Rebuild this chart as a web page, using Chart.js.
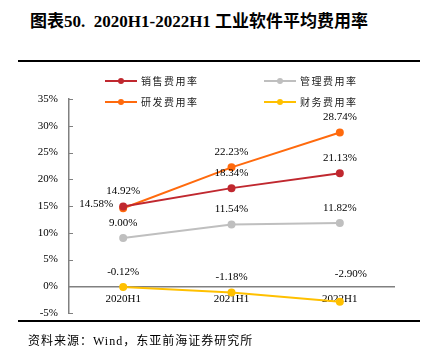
<!DOCTYPE html>
<html>
<head>
<meta charset="utf-8">
<script src="https://cdn.jsdelivr.net/npm/chart.js@4.4.0/dist/chart.umd.min.js"></script>
<style>
  body { margin: 0; background: #fff; }
  #wrap { position: relative; width: 431px; height: 354px; overflow: hidden; }
  #chart { position: absolute; left: 0; top: 0; }
  .title { position: absolute; left: 30px; top: 7px; font: bold 17px "Liberation Serif", "Noto Sans CJK SC"; color: #000; white-space: nowrap; }
  .rule { position: absolute; left: 18px; width: 402px; background: #000; }
  .source { position: absolute; left: 28px; top: 331px; font: 12px "Liberation Serif", "Noto Sans CJK SC"; letter-spacing: 1px; color: #000; white-space: nowrap; }
  .leg { position: absolute; height: 14px; font: 10px "Noto Sans CJK SC"; letter-spacing: 1.5px; color: #222; white-space: nowrap; }
  .leg .ln { position: absolute; left: 0; top: 6px; width: 32px; height: 2px; }
  .leg .dot { position: absolute; left: 13px; top: 4px; width: 6px; height: 6px; border-radius: 3px; }
  .leg span { position: absolute; left: 36px; top: -1px; }
</style>
</head>
<body>
<div id="wrap">
  <div class="title">图表50.&nbsp;&nbsp;2020H1-2022H1 工业软件平均费用率</div>
  <div class="rule" style="top:60px;height:1.5px"></div>
  <canvas id="chart" width="431" height="354"></canvas>
  <div id="legend"></div>
  <div class="rule" style="top:320px;height:2px"></div>
  <div class="source">资料来源：Wind，东亚前海证券研究所</div>
</div>
<script>
// Data
const categories = ['2020H1', '2021H1', '2022H1'];
const seriesNames = ['销售费用率', '管理费用率', '研发费用率', '财务费用率'];
const salesRate = [14.92, 18.34, 21.13];
const adminRate = [9.00, 11.54, 11.82];
const rdRate = [14.58, 22.23, 28.74];
const financeRate = [-0.12, -1.18, -2.90];
const yTicks = [-5, 0, 5, 10, 15, 20, 25, 30, 35];

const colors = ['#C0282F', '#BFBFBF', '#FF6A0D', '#FFC000'];
// label offsets per point [dx, dy]
const labelOffsets = [
    [[0, -15], [0, -15], [0, -15]],
    [[0, -15], [0, -15], [0, -15]],
    [[-27, -4], [0, -15], [0, -15]],
    [[0, -15], [0, -15], [11, -28]],
];

const allSeries = [salesRate, adminRate, rdRate, financeRate];

// Legend (2 x 2)
const legendPos = [[105, 74], [264, 74], [105, 95], [264, 95]];
const legendEl = document.getElementById('legend');
seriesNames.forEach((name, i) => {
    const d = document.createElement('div');
    d.className = 'leg';
    d.style.left = legendPos[i][0] + 'px';
    d.style.top = legendPos[i][1] + 'px';
    d.innerHTML = `<div class="ln" style="background:${colors[i]}"></div><div class="dot" style="background:${colors[i]}"></div><span>${name}</span>`;
    legendEl.appendChild(d);
});

// point labels
const labelPlugin = {
    id: 'pointLabels',
    afterDatasetsDraw(chart) {
        const ctx = chart.ctx;
        ctx.save();
        ctx.font = '11px "Liberation Serif"';
        ctx.fillStyle = '#000';
        ctx.textAlign = 'center';
        ctx.textBaseline = 'middle';
        chart.data.datasets.forEach((ds, i) => {
            chart.getDatasetMeta(i).data.forEach((pt, j) => {
                const off = labelOffsets[i][j];
                ctx.fillText(ds.data[j].toFixed(2) + '%', pt.x + off[0], pt.y + off[1]);
            });
        });
        ctx.restore();
    },
    afterDraw(chart) {
        // inward tick marks on the y axis
        const ctx = chart.ctx;
        const y = chart.scales.y;
        ctx.save();
        ctx.strokeStyle = '#808080';
        ctx.lineWidth = 1;
        y.ticks.forEach(t => {
            const py = Math.round(y.getPixelForValue(t.value)) + 0.5;
            ctx.beginPath();
            ctx.moveTo(y.right, py);
            ctx.lineTo(y.right + 4, py);
            ctx.stroke();
        });
        ctx.restore();
    }
};

new Chart(document.getElementById('chart'), {
    type: 'line',
    data: {
        labels: categories,
        datasets: allSeries.map((s, i) => ({
            label: seriesNames[i],
            data: s,
            borderColor: colors[i],
            backgroundColor: colors[i],
            borderWidth: 2,
            pointRadius: 3,
            pointHoverRadius: 3,
            tension: 0,
        })),
    },
    options: {
        responsive: false,
        animation: false,
        layout: { padding: { left: 0, right: 37, top: 99, bottom: 41 } },
        plugins: { legend: { display: false }, tooltip: { enabled: false } },
        scales: {
            x: {
                position: { y: 0 },
                offset: true,
                grid: { display: false, drawTicks: false },
                border: { color: '#808080', width: 1.5 },
                ticks: { padding: 6, color: '#000', font: { family: 'Liberation Serif', size: 11 } },
            },
            y: {
                min: -5,
                max: 35,
                afterFit: scale => { scale.width = 69; },
                afterBuildTicks: scale => { scale.ticks = yTicks.map(v => ({ value: v })); },
                grid: { display: false, drawTicks: false },
                border: { color: '#808080', width: 1.5 },
                ticks: {
                    padding: 11,
                    color: '#000',
                    font: { family: 'Liberation Serif', size: 11 },
                    callback: v => v + '%',
                },
            },
        },
    },
    plugins: [labelPlugin],
});
</script>
</body>
</html>
